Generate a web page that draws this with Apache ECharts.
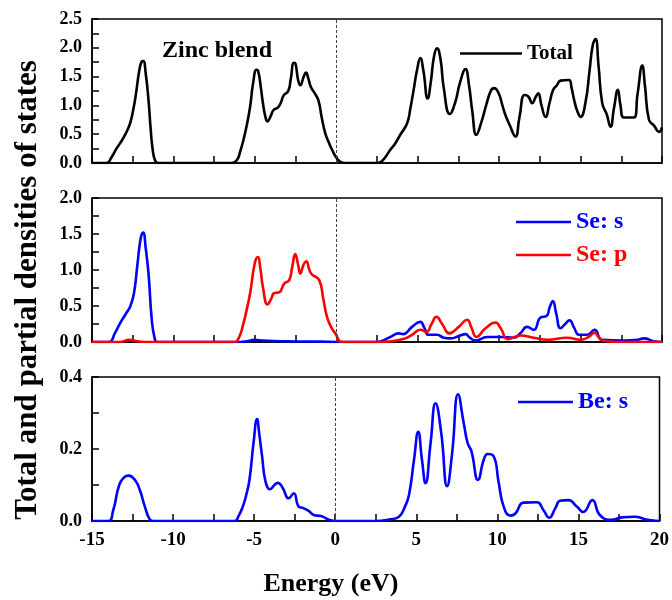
<!DOCTYPE html>
<html>
<head>
<meta charset="utf-8">
<script src="https://cdn.jsdelivr.net/npm/echarts@6/dist/echarts.min.js"></script>
<style>
  html, body { margin: 0; padding: 0; background: #fff; }
  #dos { width: 672px; height: 600px; }
</style>
</head>
<body>
<div id="dos"></div>
<script>
var chart = echarts.init(document.getElementById('dos'));

// Total DOS
var total_e = [-15, -14.1, -13.8, -13.5, -13.28, -12.95, -12.66, -12.45, -12.3, -12.1, -11.95, -11.85, -11.7, -11.53, -11.4, -11.28, -11.12, -10.9,
    -6.4, -6.1, -5.9, -5.7, -5.5, -5.29, -5.1, -4.9, -4.8, -4.65, -4.51, -4.35, -4.22, -4.05, -3.85, -3.6, -3.4, -3.24, -2.95, -2.8, -2.6, -2.5, -2.35, -2.21, -2.0, -1.86, -1.7, -1.56, -1.3, -1.09, -0.9, -0.68, -0.45, -0.26, 0.04, 0.35, 0.6,
    2.5, 2.8, 3.32, 3.6, 3.93, 4.35, 4.55, 4.75, 4.95, 5.16, 5.35, 5.61, 5.8, 6.0, 6.19, 6.4, 6.6, 6.97, 7.3, 7.6, 7.93, 8.15, 8.35, 8.6, 8.9, 9.2, 9.5, 9.7, 9.97, 10.2, 10.39, 10.66, 11.0, 11.25, 11.56, 11.8, 12.03, 12.25, 12.4, 12.6, 12.85, 13.1, 13.32, 13.55, 13.77, 14.28, 14.45, 14.6, 14.8, 15.0, 15.3, 15.55, 15.75, 15.92, 16.1, 16.33, 16.6, 16.84, 17.05, 17.29, 17.45, 17.66, 18.28, 18.5, 18.79, 18.95, 19.2, 19.51, 19.82, 20];
var total_v = [0, 0, 0.1, 0.25, 0.34, 0.5, 0.69, 0.95, 1.2, 1.6, 1.76, 1.77, 1.55, 1.09, 0.6, 0.25, 0.04, 0,
    0, 0.05, 0.2, 0.4, 0.65, 0.98, 1.4, 1.62, 1.6, 1.35, 1.05, 0.8, 0.72, 0.8, 0.92, 0.96, 1.05, 1.17, 1.25, 1.45, 1.74, 1.72, 1.45, 1.35, 1.5, 1.57, 1.45, 1.32, 1.2, 1.08, 0.8, 0.52, 0.35, 0.23, 0.08, 0.01, 0,
    0, 0.03, 0.23, 0.33, 0.49, 0.69, 0.95, 1.27, 1.6, 1.82, 1.6, 1.12, 1.4, 1.85, 1.99, 1.8, 1.3, 0.85, 1.05, 1.4, 1.63, 1.35, 0.9, 0.49, 0.7, 1.0, 1.26, 1.3, 1.21, 1.0, 0.83, 0.65, 0.46, 0.8, 1.18, 1.15, 1.04, 1.15, 1.21, 1.0, 0.8, 1.05, 1.27, 1.35, 1.43, 1.44, 1.3, 1.1, 0.9, 0.8, 1.05, 1.6, 2.05, 2.15, 1.7, 1.04, 0.85, 0.63, 0.95, 1.27, 1.0, 0.79, 0.79, 1.2, 1.69, 1.35, 0.75, 0.65, 0.54, 0.62];

// Se s
var ses_e = [-15, -13.95, -13.6, -13.28, -12.9, -12.66, -12.42, -12.2, -12.0, -11.86, -11.7, -11.53, -11.33, -11.15, -11.0,
    -6.2, -5.5, -5.0, -4.5, -3, -1, 0, 2.5, 3.32, 3.83, 4.1, 4.65, 5.16, 5.4, 5.67, 6.19, 6.6, 7.01, 7.6, 7.93, 8.2, 8.54, 9.26, 10.08, 10.9, 11.3, 11.72, 12.13, 12.54, 12.91, 13.1, 13.3, 13.5, 13.77, 14.05, 14.32, 14.6, 14.9, 15.41, 15.86, 16.33, 17.66, 18.5, 18.89, 19.5, 20];
var ses_v = [0, 0, 0.12, 0.26, 0.4, 0.49, 0.68, 1.1, 1.45, 1.52, 1.3, 0.95, 0.31, 0.05, 0,
    0, 0.01, 0.03, 0.02, 0.01, 0.005, 0, 0, 0.07, 0.12, 0.11, 0.21, 0.28, 0.2, 0.1, 0.1, 0.06, 0.05, 0.09, 0.11, 0.06, 0.02, 0.07, 0.07, 0.06, 0.12, 0.21, 0.17, 0.34, 0.36, 0.48, 0.57, 0.4, 0.19, 0.25, 0.3, 0.2, 0.1, 0.1, 0.17, 0.03, 0.02, 0.03, 0.05, 0.01, 0];

// Se p
var sep_e = [-15, -13.3, -12.7, -12.2, -11.5, -6.3, -6.0, -5.7, -5.5, -5.29, -5.0, -4.82, -4.65, -4.51, -4.22, -4.0, -3.81, -3.5, -3.2, -2.89, -2.7, -2.52, -2.35, -2.21, -2.0, -1.84, -1.65, -1.5, -1.05, -0.8, -0.57, -0.3, -0.06, 0.35,
    2.8, 3.32, 4.1, 4.65, 5.16, 5.53, 5.85, 6.15, 6.5, 6.95, 7.52, 8.03, 8.3, 8.6, 9.16, 9.77, 10.1, 10.53, 11.31, 12.13, 12.95, 14.18, 15.0, 15.5, 15.86, 16.1, 16.33, 17.25, 20];
var sep_v = [0, 0, 0.03, 0.01, 0, 0, 0.05, 0.26, 0.45, 0.68, 1.1, 1.18, 1.0, 0.77, 0.52, 0.6, 0.68, 0.69, 0.81, 0.86, 1.05, 1.22, 1.08, 0.95, 1.08, 1.12, 1.0, 0.94, 0.86, 0.6, 0.35, 0.2, 0.12, 0,
    0, 0.01, 0.04, 0.1, 0.17, 0.14, 0.25, 0.35, 0.25, 0.12, 0.21, 0.31, 0.2, 0.07, 0.19, 0.27, 0.19, 0.04, 0.09, 0.06, 0.03, 0.06, 0.03, 0.07, 0.13, 0.07, 0.02, 0, 0];

// Be s
var bes_e = [-15, -14.0, -13.69, -13.32, -13.0, -12.76, -12.35, -12.05, -11.74, -11.43, -11.2,
    -6.21, -5.95, -5.7, -5.5, -5.29, -5.04, -4.82, -4.68, -4.51, -4.3, -4.02, -3.75, -3.54, -3.24, -2.87, -2.56, -2.25, -1.97, -1.64, -1.29, -0.88, -0.47, -0.06,
    2.5, 3.32, 3.93, 4.3, 4.55, 4.86, 5.12, 5.35, 5.57, 5.88, 6.19, 6.54, 6.9, 7.21, 7.58, 7.93, 8.17, 8.4, 8.81, 9.16, 9.4, 9.77, 10.08, 10.39, 10.8, 11.1, 11.62, 12.44, 12.85, 13.2, 13.57, 13.87, 14.38, 14.9, 15.3, 15.86, 16.33, 17.05, 17.66, 18.48, 19.1, 19.5, 20];
var bes_v = [0, 0, 0.03, 0.1, 0.122, 0.126, 0.114, 0.086, 0.04, 0.004, 0,
    0, 0.015, 0.04, 0.07, 0.114, 0.216, 0.283, 0.24, 0.18, 0.11, 0.088, 0.1, 0.106, 0.092, 0.063, 0.077, 0.04, 0.036, 0.028, 0.016, 0.014, 0.005, 0,
    0, 0.004, 0.012, 0.04, 0.072, 0.17, 0.248, 0.17, 0.105, 0.216, 0.327, 0.244, 0.097, 0.188, 0.352, 0.271, 0.216, 0.194, 0.114, 0.17, 0.186, 0.18, 0.107, 0.04, 0.015, 0.02, 0.051, 0.052, 0.03, 0.009, 0.035, 0.056, 0.058, 0.04, 0.025, 0.058, 0.016, 0.003, 0.01, 0.012, 0.005, 0.002, 0];

var y1_range = [0, 2.5, 0.5];
var y2_range = [0, 2.0, 0.5];
var y3_range = [0, 0.4, 0.2];

function pairs(xs, ys) {
    var out = [];
    for (var i = 0; i < xs.length; i++) out.push([xs[i], ys[i]]);
    return out;
}

var serif = "'Liberation Serif', 'DejaVu Serif', serif";

function xaxis(idx, labels) {
    return {
        type: 'value', gridIndex: idx, min: -15, max: 20, interval: 5,
        axisLine: { onZero: false, lineStyle: { color: '#000', width: 1.5 } },
        axisTick: { inside: true, length: 7, lineStyle: { color: '#000', width: 1.5 } },
        minorTick: { show: true, splitNumber: 2, length: 7, lineStyle: { color: '#000', width: 1.5 } },
        splitLine: { show: false },
        axisLabel: { show: labels, color: '#000', fontFamily: serif, fontWeight: 'bold', fontSize: 19, margin: 10 }
    };
}

function yaxis(idx, r) {
    return {
        type: 'value', gridIndex: idx, min: r[0], max: r[1], interval: r[2],
        axisLine: { onZero: false, lineStyle: { color: '#000', width: 1.5 } },
        axisTick: { inside: true, length: 7, lineStyle: { color: '#000', width: 1.5 } },
        minorTick: { show: true, splitNumber: 2, length: 7, lineStyle: { color: '#000', width: 1.5 } },
        splitLine: { show: false },
        axisLabel: { color: '#000', fontFamily: serif, fontWeight: 'bold', fontSize: 18, margin: 10,
            formatter: function (v) { return v.toFixed(1); } }
    };
}

var fermi = {
    silent: true, symbol: 'none', label: { show: false },
    lineStyle: { type: [3, 2], color: '#444', width: 1 },
    data: [{ xAxis: 0 }]
};

function line(name, idx, data, color, mark) {
    var s = {
        name: name, type: 'line', xAxisIndex: idx, yAxisIndex: idx,
        data: data, symbol: 'none', smooth: 0.5,
        lineStyle: { color: color, width: 2.6 }, itemStyle: { color: color }
    };
    if (mark) s.markLine = fermi;
    return s;
}

var legendText = { fontFamily: serif, fontWeight: 'bold', fontSize: 24 };

chart.setOption({
    animation: false,
    grid: [
        { left: 92, right: 10, top: 19, height: 144, show: true, borderColor: '#000', borderWidth: 1.5 },
        { left: 92, right: 10, top: 198, height: 144, show: true, borderColor: '#000', borderWidth: 1.5 },
        { left: 92, right: 10, top: 377, height: 144, show: true, borderColor: '#000', borderWidth: 1.5 }
    ],
    xAxis: [xaxis(0, false), xaxis(1, false), xaxis(2, true)],
    yAxis: [yaxis(0, y1_range), yaxis(1, y2_range), yaxis(2, y3_range)],
    legend: [
        { data: [{ name: 'Total', textStyle: { color: '#000' } }], left: 455, top: 38, icon: 'rect',
          itemWidth: 62, itemHeight: 2.5, textStyle: { fontFamily: serif, fontWeight: 'bold', fontSize: 21 } },
        { data: [{ name: 'Se: s', textStyle: { color: '#0000ff' } }, { name: 'Se: p', textStyle: { color: '#ff0000' } }],
          orient: 'vertical', left: 511, top: 205, itemGap: 9, icon: 'rect',
          itemWidth: 55, itemHeight: 2.5, textStyle: legendText },
        { data: [{ name: 'Be: s', textStyle: { color: '#0000ff' } }], left: 513, top: 385, icon: 'rect',
          itemWidth: 55, itemHeight: 2.5, textStyle: legendText }
    ],
    graphic: [
        { type: 'text', left: 162, top: 39, style: { text: 'Zinc blend', font: "bold 24px 'Liberation Serif'", fill: '#000' } },
        { type: 'text', x: 28, y: 290, rotation: Math.PI / 2,
          style: { text: 'Total and partial densities of states', font: "bold 31px 'Liberation Serif'", fill: '#000', align: 'center', verticalAlign: 'middle' } },
        { type: 'text', x: 331, y: 584,
          style: { text: 'Energy (eV)', font: "bold 26px 'Liberation Serif'", fill: '#000', align: 'center', verticalAlign: 'middle' } }
    ],
    series: [
        line('Total', 0, pairs(total_e, total_v), '#000', true),
        line('Se: s', 1, pairs(ses_e, ses_v), '#0000ff', true),
        line('Se: p', 1, pairs(sep_e, sep_v), '#ff0000', false),
        line('Be: s', 2, pairs(bes_e, bes_v), '#0000ff', true)
    ]
});
</script>
</body>
</html>
